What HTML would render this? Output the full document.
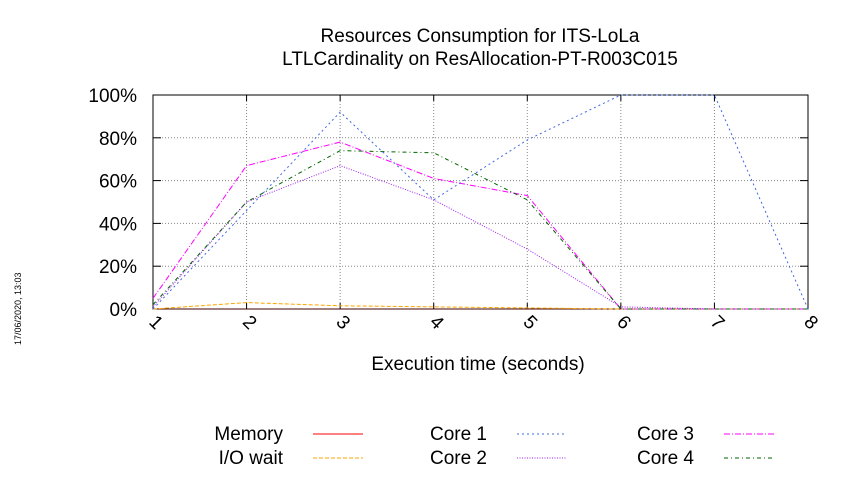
<!DOCTYPE html>
<html><head><meta charset="utf-8"><style>
body{margin:0;background:#fff}
svg text{font-family:"Liberation Sans",sans-serif}
</style></head><body>
<svg width="850" height="475" xmlns="http://www.w3.org/2000/svg">
<text x="480" y="42" font-size="19" text-anchor="middle">Resources Consumption for ITS-LoLa</text>
<text x="480" y="65" font-size="19" text-anchor="middle">LTLCardinality on ResAllocation-PT-R003C015</text>
<text transform="translate(21,345) rotate(-90)" font-size="9">17/06/2020, 13:03</text>
<g id="grid"></g>
<g id="axes"></g>
<g id="series"></g>
<text x="478" y="370" font-size="19" text-anchor="middle">Execution time (seconds)</text>
<g font-size="19">
<g><text x="283" y="440" text-anchor="end">Memory</text><line x1="313" y1="434" x2="363" y2="434" stroke="#ff0000" stroke-width="1"/></g>
<g><text x="283" y="464" text-anchor="end">I/O wait</text><line x1="313" y1="458" x2="363" y2="458" stroke="#ffa500" stroke-dasharray="4,2"/></g>
<g><text x="487" y="440" text-anchor="end">Core 1</text><line x1="517" y1="434" x2="567" y2="434" stroke="#4169e1" stroke-dasharray="2,3"/></g>
<g><text x="487" y="464" text-anchor="end">Core 2</text><line x1="517" y1="458" x2="567" y2="458" stroke="#a020f0" stroke-dasharray="1,1.5"/></g>
<g><text x="694" y="440" text-anchor="end">Core 3</text><line x1="724" y1="434" x2="774" y2="434" stroke="#ff00ff" stroke-dasharray="6,2,1,2"/></g>
<g><text x="694" y="464" text-anchor="end">Core 4</text><line x1="724" y1="458" x2="774" y2="458" stroke="#006400" stroke-dasharray="4,3,1,3"/></g>
</g>
</svg>
<script>
const categories=[1,2,3,4,5,6,7,8];
const yTicks=[0,20,40,60,80,100];
const memory=[0,0,0,0,0,0,0,0];
const ioWait=[0,3,1.5,1,0.5,0,0,0];
const core1=[0,46,92,51,79,100,100,0];
const core2=[1,50,67,51,28,1,0,0];
const core3=[5,67,78,61,53,0,0,0];
const core4=[2,50,74,73,51,0,0,0];
const NS="http://www.w3.org/2000/svg";
const X0=153,X1=808,Y0=309,Y1=95;
function xs(v){return X0+(v-1)/(categories.length-1)*(X1-X0);}
function ys(v){return Y0-v/100*(Y0-Y1);}
function mk(t,a,p){const e=document.createElementNS(NS,t);for(const k in a)e.setAttribute(k,a[k]);p.appendChild(e);return e;}
const grid=document.getElementById('grid'),axes=document.getElementById('axes'),ser=document.getElementById('series');
yTicks.forEach(t=>{
 const l=mk('line',{x1:X0,x2:X1,y1:ys(t),y2:ys(t),stroke:'#888','stroke-dasharray':'1,2'},grid);
 
 
 const tx=mk('text',{x:137,y:ys(t)+7,'font-size':19,'text-anchor':'end'},axes);
 tx.textContent=t+'%';
 
 
 mk('line',{x1:X0,x2:X0+8,y1:ys(t),y2:ys(t),stroke:'#000'},axes);
 mk('line',{x1:X1,x2:X1-8,y1:ys(t),y2:ys(t),stroke:'#000'},axes);
});
categories.forEach(c=>{
 const l=mk('line',{x1:xs(c),x2:xs(c),y1:Y0,y2:Y1,stroke:'#888','stroke-dasharray':'1,2'},grid);
 
 
 mk('line',{x1:xs(c),x2:xs(c),y1:Y0,y2:Y0-6,stroke:'#000'},axes);
 mk('line',{x1:xs(c),x2:xs(c),y1:Y1,y2:Y1+6,stroke:'#000'},axes);
 const tx=mk('text',{transform:`translate(${xs(c)-5},${Y0+14}) rotate(45)`,'font-size':19},axes);
 tx.textContent=c;
 
 
});
const fr=mk('rect',{x:X0,y:Y1,width:X1-X0,height:Y0-Y1,fill:'none',stroke:'#000'},axes);


function line(data,color,dash,name,op){
 const p=mk('polyline',{points:data.map((v,i)=>xs(categories[i])+','+ys(v)).join(' '),fill:'none',stroke:color,'stroke-dasharray':dash,'stroke-opacity':op||1},ser);
 
 
}
line(memory,'#ff0000','none','memory-line',0.25);
line(ioWait,'#ffa500','4,2','io-wait-line');
line(core2,'#a020f0','1,1.5','core2-line');
line(core3,'#ff00ff','6,2,1,2','core3-line');
line(core4,'#006400','4,3,1,3','core4-line');
line(core1,'#4169e1','2,3','core1-line');
</script>
</body></html>
